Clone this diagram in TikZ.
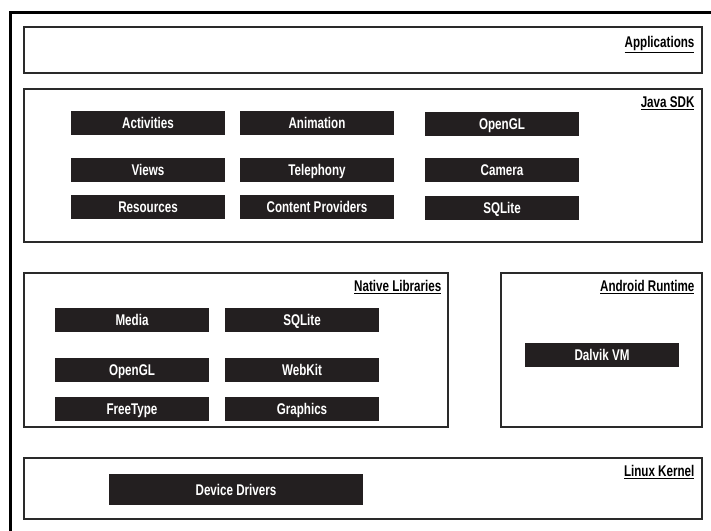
\documentclass[tikz,border=0pt]{standalone}
\usepackage{fontspec}
\setmainfont{Liberation Sans}[FakeStretch=0.75]
\definecolor{boxblack}{HTML}{231F20}
\definecolor{frameline}{HTML}{2A2A2A}
\begin{document}
\begin{tikzpicture}[x=1bp,y=-1bp,
  every node/.style={font=\fontsize{15.5bp}{18bp}\selectfont\bfseries},
  layer/.style={draw=frameline, line width=1.2bp, fill=white, inner sep=0pt, rectangle},
  comp/.style={fill=boxblack, text=white, inner sep=0pt, minimum width=154bp, minimum height=24bp, rectangle, text height=12.5bp, text depth=1.5bp},
  layerlabel/.style={anchor=base east, inner sep=0pt, text=black}
]
\useasboundingbox (0,0) rectangle (711,531);
\fill[white] (0,0) rectangle (711,531);
% outer frame (top and left edges)
\coordinate (ftl) at (10,12.5);
\coordinate (ftr) at (711,12.5);
\coordinate (fbl) at (10,531);
\draw[line width=3bp, black] (ftr) -- (ftl) -- (fbl);

% layers
\node[layer, minimum width=678bp, minimum height=46bp] (app) at (363,50) {};
\node[layer, minimum width=678bp, minimum height=153bp] (sdk) at (363,165.5) {};
\node[layer, minimum width=424bp, minimum height=154bp] (nat) at (236,350) {};
\node[layer, minimum width=201bp, minimum height=154bp] (art) at (601.5,350) {};
\node[layer, minimum width=678bp, minimum height=61bp] (lin) at (363,488.5) {};

% labels
\node[layerlabel, xshift=-8bp, yshift=-21bp] (appl) at (app.north east) {\underline{Applications}};
\node[layerlabel, xshift=-8bp, yshift=-19bp] (sdkl) at (sdk.north east) {\underline{Java SDK}};
\node[layerlabel, xshift=-7bp, yshift=-19bp] (natl) at (nat.north east) {\underline{Native Libraries}};
\node[layerlabel, xshift=-8bp, yshift=-19bp] (artl) at (art.north east) {\underline{Android Runtime}};
\node[layerlabel, xshift=-8bp, yshift=-19bp] (linl) at (lin.north east) {\underline{Linux Kernel}};

% Java SDK components
\node[comp] (act) at (148,123) {Activities};
\node[comp] (ani) at (317,123.5) {Animation};
\node[comp] (ogl1) at (502,124) {OpenGL};
\node[comp] (vie) at (148,170) {Views};
\node[comp] (tel) at (317,170) {Telephony};
\node[comp] (cam) at (502,170) {Camera};
\node[comp] (res) at (148,207.5) {Resources};
\node[comp] (con) at (317,207.5) {Content Providers};
\node[comp] (sql1) at (502,208) {SQLite};

% Native libraries
\node[comp] (med) at (132,320) {Media};
\node[comp] (sql2) at (302,320) {SQLite};
\node[comp] (ogl2) at (132,370) {OpenGL};
\node[comp] (web) at (302,370) {WebKit};
\node[comp] (fre) at (132,409) {FreeType};
\node[comp] (gra) at (302,409) {Graphics};

% Android runtime
\node[comp] (dal) at (602,355) {Dalvik VM};

% Linux kernel
\node[comp, minimum width=254bp, minimum height=31bp] (dev) at (236,489.5) {Device Drivers};
\end{tikzpicture}
\end{document}
